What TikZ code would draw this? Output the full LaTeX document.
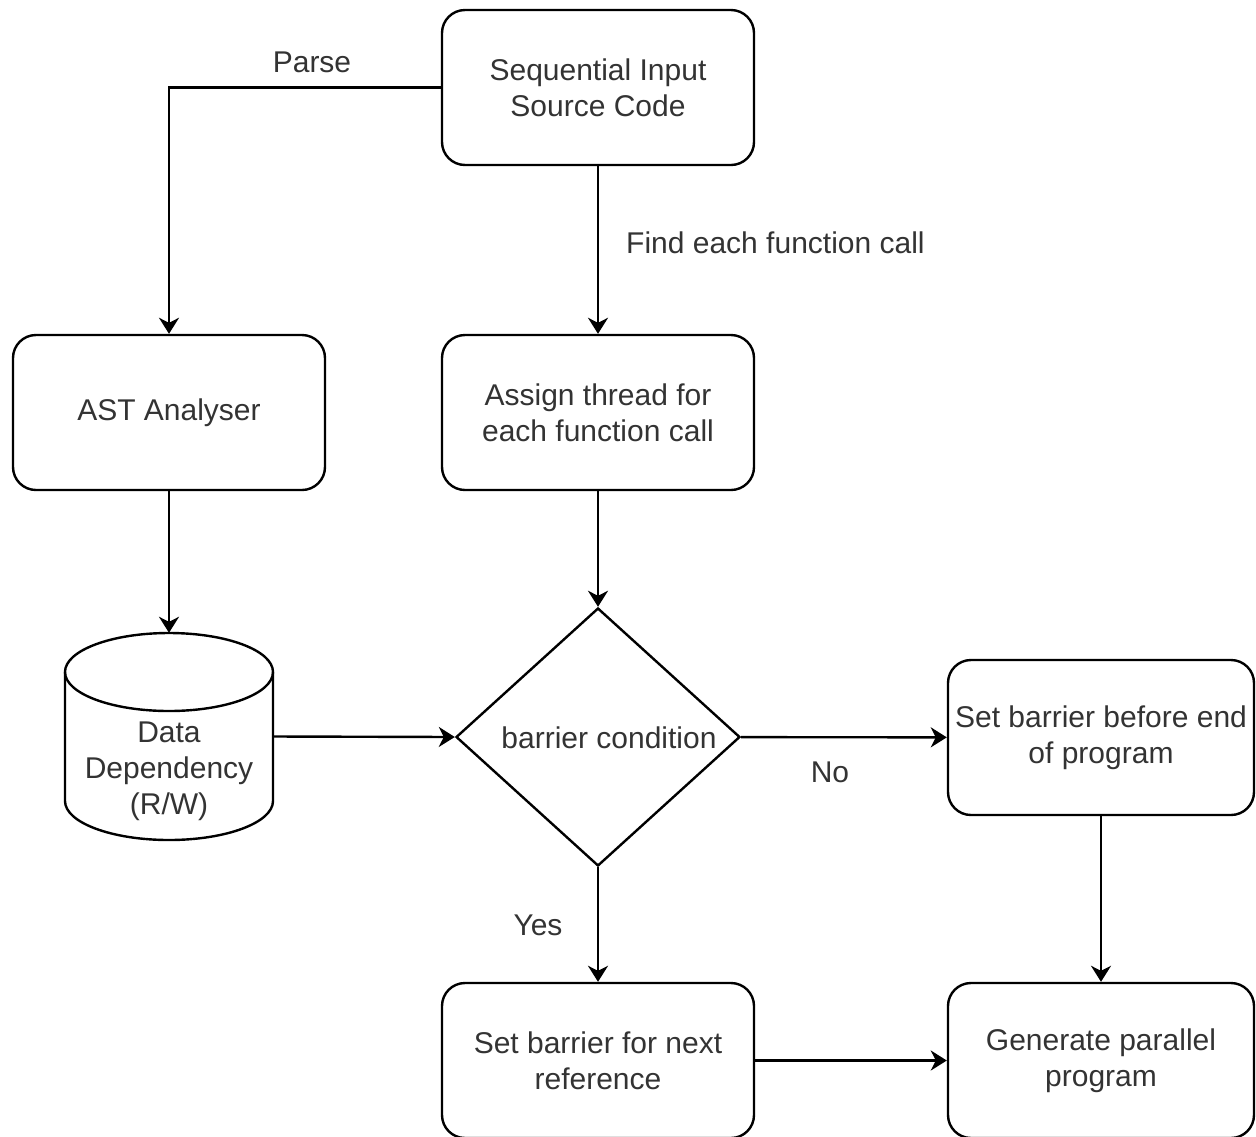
\documentclass[tikz,border=0pt]{standalone}
\usepackage{fontspec}
\setmainfont{Liberation Sans}
\usetikzlibrary{arrows.meta,shapes.geometric}
\definecolor{ink}{gray}{0.2}
\begin{document}
\begin{tikzpicture}[x=1pt,y=-1pt,
  txt/.style={font=\fontsize{30}{36}\selectfont, text=ink},
  box/.style={draw, line width=2.4pt, rounded corners=23pt, minimum width=312pt,
    minimum height=155pt, align=center, txt, inner sep=0pt},
  arr/.style={line width=2.4pt, -{Stealth[length=16pt,width=20pt,inset=5pt]}},
  lbl/.style={txt, inner sep=0pt}]
\useasboundingbox (0,0) rectangle (1256,1136);

% process boxes
\node[box] (src) at (598,87.5) {Sequential Input\\Source Code};
\node[box] (ast) at (169,412.5) {AST Analyser};
\node[box] (asg) at (598,412.5) {Assign thread for\\each function call};
\node[box, minimum width=306pt] (end) at (1101,737.5) {Set barrier before end\\of program};
\node[box] (nxt) at (598,1060.5) {Set barrier for next\\reference};
\node[box, minimum width=306pt] (gen) at (1101,1060.5) {Generate parallel\\program};

% decision
\node[diamond, draw, line width=2.4pt, minimum width=284pt, minimum height=258pt,
  inner sep=0pt] (cond) at (598,737) {};
\node[lbl] (condtxt) at (609,738) {barrier condition};

% data store (cylinder)
\node[minimum width=208pt, minimum height=207pt, inner sep=0pt] (dd) at (169,736.5) {};
\draw[line width=2.4pt, fill=white]
  (65,672) -- (65,801) arc[start angle=180, end angle=0, x radius=104, y radius=39]
  -- (273,672);
\draw[line width=2.4pt] (169,672) ellipse[x radius=104, y radius=39];
\node[lbl, align=center] (ddtxt) at (169,771) {Data\\Dependency\\(R/W)};

% connectors
\draw[arr] (src.west) -| (ast.north);
\node[lbl] (lparse) at (312,62) {Parse};
\draw[arr] (src) -- (asg);
\node[lbl, anchor=west] (lfind) at (626,243) {Find each function call};
\draw[arr] (ast) -- (dd.north);
\draw[arr] (asg) -- (cond);
\draw[arr] (dd.east) -- (cond.west);
\draw[arr] (cond) -- (end);
\node[lbl] (lno) at (830,772) {No};
\draw[arr] (cond) -- (nxt);
\node[lbl] (lyes) at (538,925) {Yes};
\draw[arr] (end) -- (gen);
\draw[arr] (nxt) -- (gen);
\end{tikzpicture}
\end{document}
